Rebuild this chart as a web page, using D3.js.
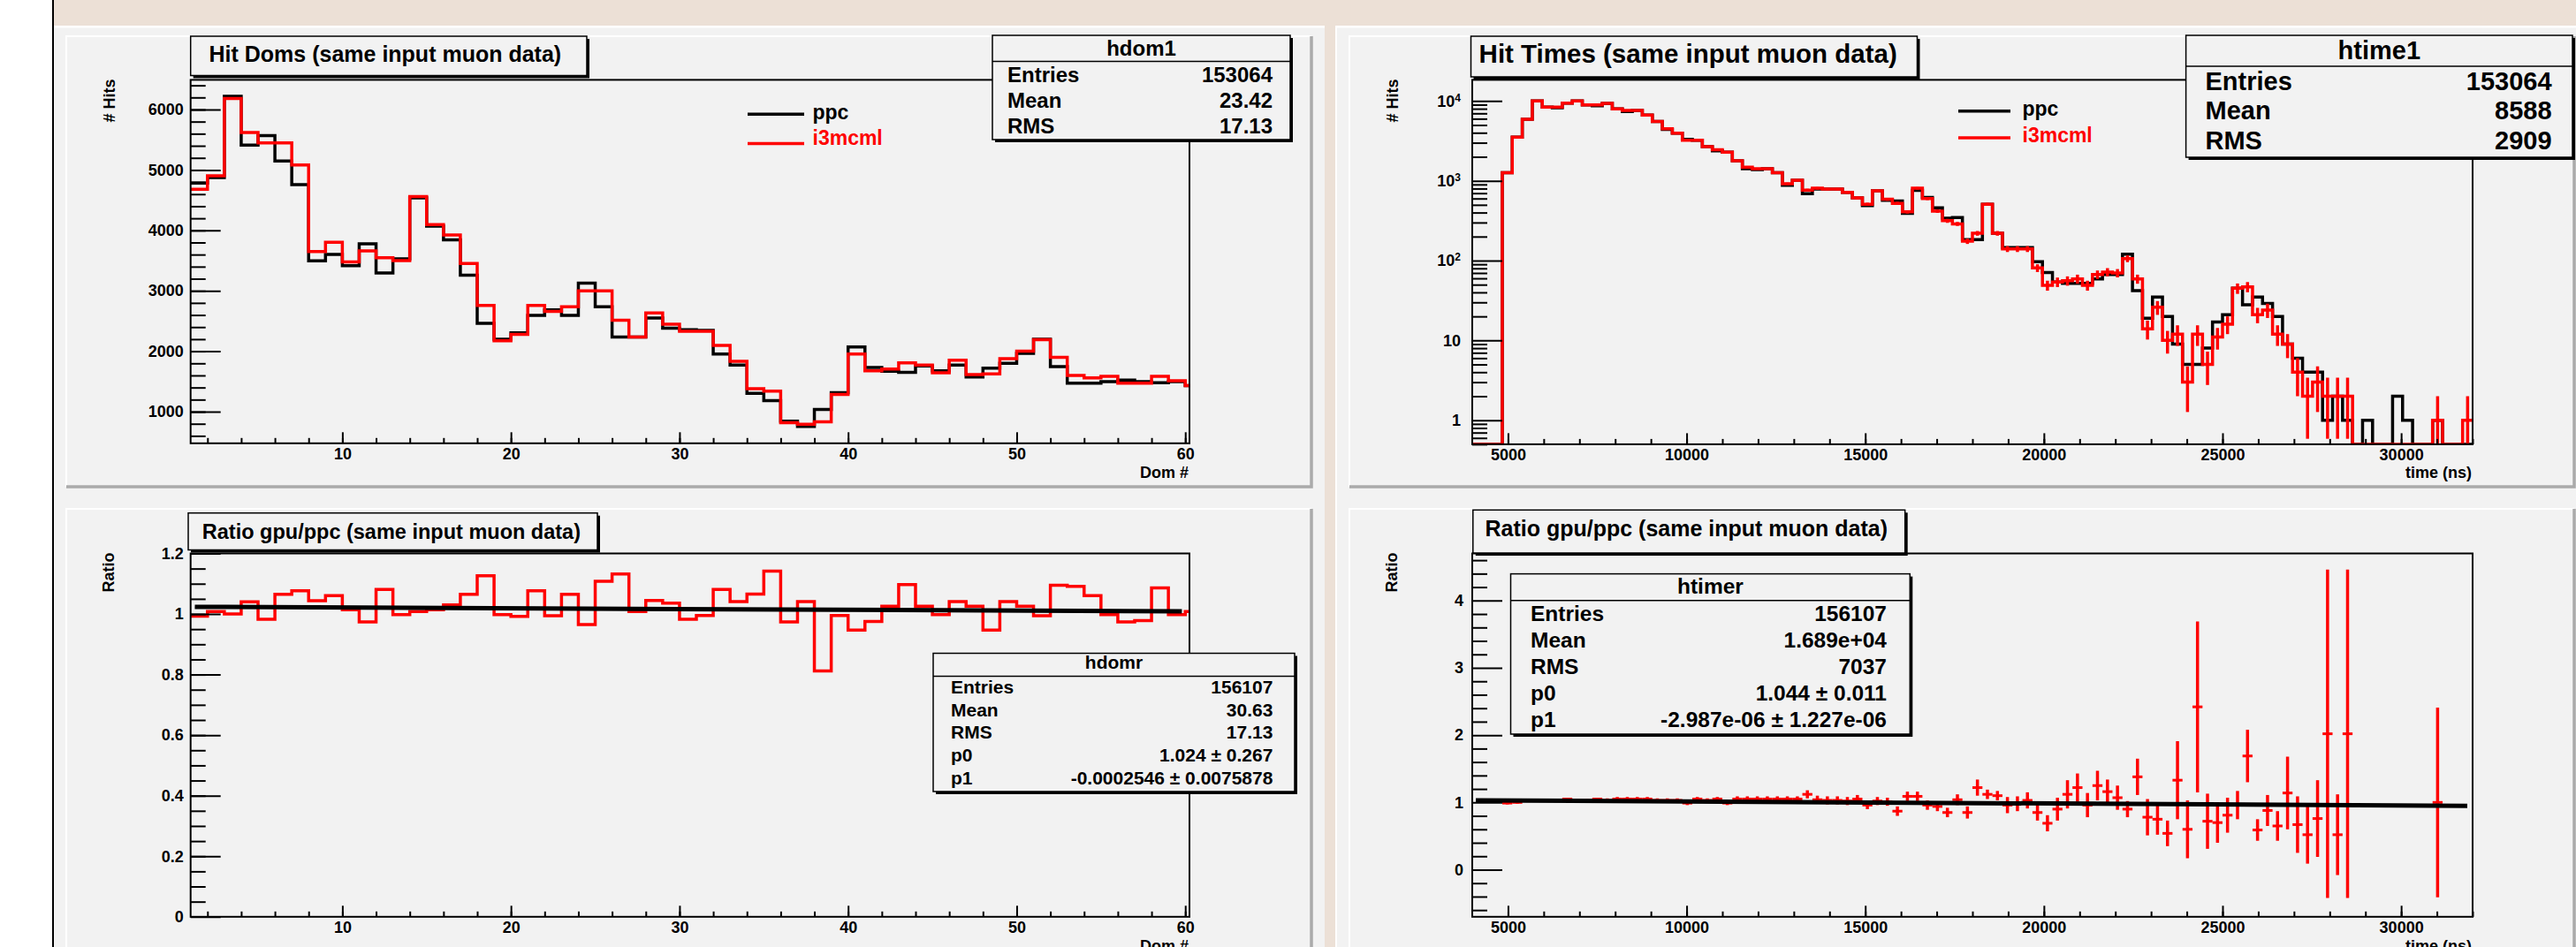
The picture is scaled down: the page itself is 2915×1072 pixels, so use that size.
<!DOCTYPE html>
<html lang="en">
<head>
<meta charset="UTF-8">
<title>ppc vs i3mcml</title>
<script src="https://d3js.org/d3.v7.min.js"></script>
<style>
  body { margin: 0; overflow: hidden; background: #fff; }
  svg text { font-family: 'Liberation Sans', Arial, Helvetica, sans-serif; font-weight: bold; }
</style>
</head>
<body>
<div id="chart"></div>
<script>
// ---------- data read off the canvases ----------
// hits per DOM number (bins 1..60)
const domBins = d3.range(1, 61);
const domPpc = [4784, 4873, 6219, 5410, 5567, 5149, 4758, 3495, 3604, 3416,
                3777, 3296, 3531, 4538, 4069, 3844, 3260, 2461, 2200, 2305,
                2592, 2686, 2592, 3129, 2738, 2237, 2237, 2550, 2383, 2357,
                2346, 1955, 1772, 1303, 1183, 843, 755, 1037, 1313, 2070,
                1731, 1668, 1652, 1757, 1678, 1772, 1574, 1720, 1799, 1966,
                2200, 1746, 1470, 1470, 1496, 1522, 1496, 1480, 1496, 1433];
const domI3 = [4680, 4904, 6182, 5619, 5447, 5447, 5081, 3651, 3803, 3479,
               3662, 3547, 3500, 4559, 4095, 3923, 3453, 2759, 2174, 2279,
               2759, 2660, 2738, 2999, 2999, 2514, 2237, 2634, 2446, 2331,
               2331, 2096, 1835, 1381, 1339, 817, 791, 833, 1287, 1955,
               1678, 1705, 1809, 1772, 1642, 1851, 1616, 1626, 1877, 2002,
               2190, 1898, 1600, 1558, 1585, 1470, 1470, 1585, 1511, 1433];
const domRatio = [0.993, 1.008, 1.000, 1.040, 0.983, 1.065, 1.077, 1.044, 1.061, 1.014,
                  0.974, 1.081, 0.998, 1.008, 1.014, 1.030, 1.065, 1.126, 0.998, 0.992,
                  1.077, 0.994, 1.065, 0.965, 1.108, 1.132, 1.008, 1.045, 1.036, 0.983,
                  0.995, 1.081, 1.041, 1.066, 1.142, 0.974, 1.041, 0.812, 0.995, 0.947,
                  0.975, 1.026, 1.097, 1.026, 0.998, 1.041, 1.026, 0.947, 1.041, 1.026,
                  0.994, 1.095, 1.091, 1.061, 0.998, 0.974, 0.978, 1.086, 0.998, 1.008];
const domFit = [1.024, -0.0002546];

// hit times, 100 bins from 4000 to 32000 ns
const timeRange = [4000, 32000];
const timeBinCount = 100;
const timePpc = [0, 0, 0, 1262, 3525, 5916, 10040, 8375, 8200, 9420,
                 10040, 8910, 8700, 9330, 7960, 7400, 7640, 6655, 5545, 4400,
                 3960, 3300, 3219, 2684, 2380, 2278, 1782, 1420, 1380, 1419,
                 1262, 880, 1014, 690, 790, 787, 787, 718, 610, 490,
                 751, 570, 560, 390, 760, 620, 460, 340, 347, 183,
                 183, 508, 220, 146, 146, 146, 97, 71, 54, 52,
                 52, 52, 59, 67, 67, 120, 42, 19, 35, 20,
                 9, 5, 5, 8, 17, 21, 45, 28, 35, 29,
                 20, 9, 6, 4, 4, 1, 2, 1, 0, 1,
                 0, 0, 2, 1, 0, 0, 1, 0, 0, 0];
const timeI3 = [0, 0, 0, 1262, 3525, 5916, 10040, 8375, 8375, 9420,
                10040, 8910, 8910, 9330, 7960, 7640, 7640, 6655, 5545, 4497,
                3960, 3219, 3219, 2684, 2449, 2278, 1782, 1486, 1419, 1419,
                1262, 918, 1014, 766, 808, 787, 787, 718, 610, 508,
                751, 587, 522, 408, 808, 598, 416, 316, 289, 175,
                220, 508, 220, 140, 140, 140, 81, 49, 54, 56,
                59, 49, 67, 72, 70, 106, 59, 14, 26, 10,
                12, 3, 12, 5, 11, 16, 45, 47, 21, 24,
                12, 9, 4, 2, 3, 2, 2, 2, 0, 0,
                0, 0, 0, 0, 0, 0, 1, 0, 0, 1];
const timeRatio = [null, null, null, 0.99, 1.00, 1.03, 1.03, 1.03, 1.03, 1.05,
                   1.03, 1.03, 1.05, 1.03, 1.05, 1.05, 1.05, 1.05, 1.03, 1.03,
                   1.03, 0.99, 1.05, 1.03, 1.05, 0.99, 1.05, 1.05, 1.05, 1.05,
                   1.05, 1.05, 1.05, 1.12, 1.04, 1.03, 1.03, 1.02, 1.05, 0.96,
                   1.02, 1.01, 0.87, 1.09, 1.09, 0.96, 0.94, 0.85, 1.04, 0.85,
                   1.22, 1.12, 1.10, 0.96, 0.98, 1.03, 0.85, 0.69, 0.90, 1.12,
                   1.22, 0.96, 1.25, 1.16, 1.07, 0.90, 1.38, 0.78, 0.75, 0.54,
                   1.33, 0.60, 2.42, 0.72, 0.70, 0.81, 0.96, 1.69, 0.59, 0.88,
                   0.65, 1.14, 0.67, 0.52, 0.76, 2.02, 0.52, 2.02, null, null,
                   null, null, null, null, null, null, 1.00, null, null, null];
const timeRatioErr = [null, null, null, 0.02, 0.02, 0.02, 0.02, 0.02, 0.02, 0.02,
                      0.02, 0.02, 0.02, 0.03, 0.03, 0.03, 0.03, 0.03, 0.03, 0.03,
                      0.03, 0.03, 0.03, 0.03, 0.03, 0.03, 0.04, 0.04, 0.04, 0.04,
                      0.04, 0.04, 0.04, 0.06, 0.06, 0.06, 0.06, 0.06, 0.06, 0.06,
                      0.06, 0.06, 0.07, 0.07, 0.07, 0.07, 0.07, 0.07, 0.08, 0.09,
                      0.12, 0.07, 0.07, 0.12, 0.11, 0.12, 0.12, 0.12, 0.17, 0.21,
                      0.21, 0.18, 0.22, 0.18, 0.18, 0.12, 0.27, 0.27, 0.23, 0.19,
                      0.58, 0.43, 1.27, 0.41, 0.30, 0.26, 0.21, 0.39, 0.16, 0.23,
                      0.22, 0.54, 0.42, 0.43, 0.57, 2.44, 0.60, 2.44, null, null,
                      null, null, null, null, null, null, 1.41, null, null, null];
const timeFit = [1.044, -2.987e-06];

// tick labels
const domTicks = [10, 20, 30, 40, 50, 60];
const hitTicks = [1000, 2000, 3000, 4000, 5000, 6000];
const domRatioTicks = [0, 0.2, 0.4, 0.6, 0.8, 1, 1.2];
const timeTicks = [5000, 10000, 15000, 20000, 25000, 30000];
const logTicks = [1, 10, 100, 1000, 10000];
const timeRatioTicks = [0, 1, 2, 3, 4];

// legend + stats boxes
const legendNames = ["ppc", "i3mcml"];
const legendColors = ["#000000", "#ff0000"];
const statsHdom1 = [["Entries", "153064"], ["Mean", "23.42"], ["RMS", "17.13"]];
const statsHtime1 = [["Entries", "153064"], ["Mean", "8588"], ["RMS", "2909"]];
const statsHdomr = [["Entries", "156107"], ["Mean", "30.63"], ["RMS", "17.13"],
                    ["p0", "1.024 \u00b1 0.267"], ["p1", "-0.0002546 \u00b1 0.0075878"]];
const statsHtimer = [["Entries", "156107"], ["Mean", "1.689e+04"], ["RMS", "7037"],
                     ["p0", "1.044 \u00b1 0.011"], ["p1", "-2.987e-06 \u00b1 1.227e-06"]];

// ---------- page ----------
const W = 2915, H = 1072;
const BG = "#f2f2f2";
const svg = d3.select("#chart").append("svg").attr("width", W).attr("height", H);

svg.append("rect").attr("width", W).attr("height", H).attr("fill", "#ffffff");
svg.append("rect").attr("x", 61).attr("y", 0).attr("width", W - 61).attr("height", H).attr("fill", BG);
svg.append("rect").attr("x", 61).attr("y", 0).attr("width", W - 61).attr("height", 29).attr("fill", "#ece0d6");
svg.append("rect").attr("x", 61).attr("y", 29).attr("width", W - 61).attr("height", 2.5).attr("fill", "#ffffff");
svg.append("rect").attr("x", 1499).attr("y", 0).attr("width", 12).attr("height", H).attr("fill", "#ece0d6");
svg.append("rect").attr("x", 1511).attr("y", 29).attr("width", 2).attr("height", H).attr("fill", "#ffffff");
svg.append("line").attr("x1", 60).attr("x2", 60).attr("y1", 0).attr("y2", H)
  .attr("stroke", "#000").attr("stroke-width", 2);

function drawPad(x0, y0, x1, y1) {
  svg.append("path").attr("d", `M${x0},${y1}V${y0}H${x1}`)
    .attr("fill", "none").attr("stroke", "#ffffff").attr("stroke-width", 2);
  svg.append("path").attr("d", `M${x0},${y1}H${x1}V${y0}`)
    .attr("fill", "none").attr("stroke", "#aaaaaa").attr("stroke-width", 3.5);
}
drawPad(75, 41, 1484, 551);
drawPad(75, 576, 1484, 1100);
drawPad(1527, 41, 2913, 551);
drawPad(1527, 576, 2913, 1100);

// ---------- helpers ----------
function addClip(id, f) {
  svg.append("clipPath").attr("id", id).append("rect")
    .attr("x", f.x0).attr("y", f.y0).attr("width", f.x1 - f.x0).attr("height", f.y1 - f.y0);
  return `url(#${id})`;
}

function stepPath(edges, values, x, y) {
  const pts = values.map((v, i) => [edges[i], v]);
  pts.push([edges[values.length], values[values.length - 1]]);
  return d3.line().x(d => x(d[0])).y(d => y(d[1])).curve(d3.curveStepAfter)(pts);
}

function xAxis(f, scale, majors, minors, fmt) {
  const g = svg.append("g").attr("transform", `translate(0,${f.y1})`);
  g.append("g").call(d3.axisBottom(scale).tickValues(minors).tickSize(-6).tickFormat(""));
  g.append("g").call(d3.axisBottom(scale).tickValues(majors).tickSize(-12.5).tickPadding(5).tickFormat(fmt));
  g.selectAll(".domain").remove();
  g.selectAll("line").attr("stroke-width", 2);
  g.selectAll("text").attr("font-size", 18).attr("fill", "#000");
  return g;
}

function yAxis(f, scale, majors, minors, fmt, pad) {
  const g = svg.append("g").attr("transform", `translate(${f.x0},0)`);
  g.append("g").call(d3.axisLeft(scale).tickValues(minors).tickSize(-17).tickFormat(""));
  const gMajor = g.append("g")
    .call(d3.axisLeft(scale).tickValues(majors).tickSize(-34).tickPadding(pad).tickFormat(fmt));
  g.selectAll(".domain").remove();
  g.selectAll("line").attr("stroke-width", 2);
  g.selectAll("text").attr("font-size", 18).attr("fill", "#000");
  return gMajor;
}

function frameRect(f) {
  svg.append("rect").attr("x", f.x0).attr("y", f.y0)
    .attr("width", f.x1 - f.x0).attr("height", f.y1 - f.y0)
    .attr("fill", "none").attr("stroke", "#000").attr("stroke-width", 2);
}

function titleBox(b, text, fs) {
  svg.append("rect").attr("x", b.x0 + 3).attr("y", b.y0 + 3)
    .attr("width", b.x1 - b.x0).attr("height", b.y1 - b.y0).attr("fill", "#000");
  svg.append("rect").attr("x", b.x0).attr("y", b.y0)
    .attr("width", b.x1 - b.x0).attr("height", b.y1 - b.y0)
    .attr("fill", BG).attr("stroke", "#000").attr("stroke-width", 1.5);
  svg.append("text").attr("x", b.tx).attr("y", b.ty).attr("font-size", fs).text(text);
}

function statsBox(b, name, rows) {
  svg.append("rect").attr("x", b.x0 + 3).attr("y", b.y0 + 3)
    .attr("width", b.x1 - b.x0).attr("height", b.y1 - b.y0).attr("fill", "#000");
  svg.append("rect").attr("x", b.x0).attr("y", b.y0)
    .attr("width", b.x1 - b.x0).attr("height", b.y1 - b.y0)
    .attr("fill", BG).attr("stroke", "#000").attr("stroke-width", 1.5);
  svg.append("line").attr("x1", b.x0).attr("x2", b.x1).attr("y1", b.line).attr("y2", b.line)
    .attr("stroke", "#000").attr("stroke-width", 1.5);
  svg.append("text").attr("x", (b.x0 + b.x1) / 2).attr("y", b.head)
    .attr("text-anchor", "middle").attr("font-size", b.fs).text(name);
  rows.forEach((r, i) => {
    const y = b.row0 + i * b.step;
    svg.append("text").attr("x", b.lx).attr("y", y).attr("font-size", b.fs).text(r[0]);
    svg.append("text").attr("x", b.rx).attr("y", y).attr("text-anchor", "end")
      .attr("font-size", b.fs).text(r[1]);
  });
}

function legend(l) {
  legendNames.forEach((n, i) => {
    svg.append("line").attr("x1", l.x0).attr("x2", l.x1).attr("y1", l.ly[i]).attr("y2", l.ly[i])
      .attr("stroke", legendColors[i]).attr("stroke-width", 3.5);
    svg.append("text").attr("x", l.tx).attr("y", l.ty[i]).attr("font-size", 23)
      .attr("fill", legendColors[i]).text(n);
  });
}

function axisTitles(f, ytitle, yx, xtitle, xy) {
  svg.append("text").attr("transform", `translate(${yx},${f.y0 - 1}) rotate(-90)`)
    .attr("text-anchor", "end").attr("font-size", 18).text(ytitle);
  svg.append("text").attr("x", f.x1 - 1).attr("y", xy)
    .attr("text-anchor", "end").attr("font-size", 18).text(xtitle);
}

const fmtNum = d => String(+d.toFixed(1));

// ---------- top left: hit doms ----------
const fTL = { x0: 215.7, x1: 1346, y0: 90.4, y1: 501.8 };
const xDom = d3.scaleLinear().domain([1, 60.25]).range([fTL.x0, fTL.x1]);
const yHits = d3.scaleLinear().domain([477, 6491]).range([fTL.y1, fTL.y0]);
const domEdges = domBins.concat([61]);
const clipTL = addClip("clipTL", fTL);

svg.append("path").attr("d", stepPath(domEdges, domPpc, xDom, yHits)).attr("clip-path", clipTL)
  .attr("fill", "none").attr("stroke", "#000").attr("stroke-width", 3.5);
svg.append("path").attr("d", stepPath(domEdges, domI3, xDom, yHits)).attr("clip-path", clipTL)
  .attr("fill", "none").attr("stroke", "#ff0000").attr("stroke-width", 3.5);
frameRect(fTL);
xAxis(fTL, xDom, domTicks, d3.range(2, 61, 2), d3.format("d"));
yAxis(fTL, yHits, hitTicks, d3.range(600, 6500, 200), d3.format("d"), 8);
axisTitles(fTL, "# Hits", 130, "Dom #", 541);
titleBox({ x0: 215.7, x1: 664, y0: 41, y1: 85.5, tx: 236.5, ty: 69.6 }, "Hit Doms (same input muon data)", 25);
legend({ x0: 846, x1: 910, ly: [129.3, 162.5], tx: 919.5, ty: [134.5, 164.3] });
statsBox({ x0: 1123, x1: 1460, y0: 40, y1: 158, line: 69.6, head: 62.5,
           row0: 93, step: 28.8, lx: 1140, rx: 1440, fs: 24 }, "hdom1", statsHdom1);

// ---------- bottom left: dom ratio ----------
const fBL = { x0: 215.7, x1: 1346, y0: 626.5, y1: 1037.8 };
const yDomR = d3.scaleLinear().domain([0, 1.2]).range([fBL.y1, fBL.y0]);
const clipBL = addClip("clipBL", fBL);
svg.append("path").attr("d", stepPath(domEdges, domRatio, xDom, yDomR)).attr("clip-path", clipBL)
  .attr("fill", "none").attr("stroke", "#ff0000").attr("stroke-width", 3.5);
const domFitX = [1.25, 59.8];
svg.append("line")
  .attr("x1", xDom(domFitX[0])).attr("y1", yDomR(domFit[0] + domFit[1] * domFitX[0]))
  .attr("x2", xDom(domFitX[1])).attr("y2", yDomR(domFit[0] + domFit[1] * domFitX[1]))
  .attr("stroke", "#000").attr("stroke-width", 5);
frameRect(fBL);
xAxis(fBL, xDom, domTicks, d3.range(2, 61, 2), d3.format("d"));
yAxis(fBL, yDomR, domRatioTicks, d3.range(0.05, 1.2, 0.05), fmtNum, 8);
axisTitles(fBL, "Ratio", 129, "Dom #", 1077);
titleBox({ x0: 213, x1: 676, y0: 580.7, y1: 622.5, tx: 228.8, ty: 609.6 }, "Ratio gpu/ppc (same input muon data)", 23.5);
statsBox({ x0: 1056, x1: 1465, y0: 739.5, y1: 896, line: 765.6, head: 757.2,
           row0: 785, step: 25.7, lx: 1076, rx: 1440.4, fs: 21 }, "hdomr", statsHdomr);

// ---------- top right: hit times (log) ----------
const fTR = { x0: 1666, x1: 2798, y0: 90.4, y1: 502.9 };
const xTime = d3.scaleLinear().domain(timeRange).range([fTR.x0, fTR.x1]);
const binW = (timeRange[1] - timeRange[0]) / timeBinCount;
const timeEdges = d3.range(timeBinCount + 1).map(i => timeRange[0] + i * binW);
const yLog = d3.scaleLog().domain([0.5, 18400]).range([fTR.y1, fTR.y0]);
const yLogZ = v => (v > 0 ? yLog(v) : fTR.y1);
const clipTR = addClip("clipTR", fTR);

svg.append("path").attr("d", stepPath(timeEdges, timePpc, xTime, yLogZ)).attr("clip-path", clipTR)
  .attr("fill", "none").attr("stroke", "#000").attr("stroke-width", 3.5);
svg.append("path").attr("d", stepPath(timeEdges, timeI3, xTime, yLogZ)).attr("clip-path", clipTR)
  .attr("fill", "none").attr("stroke", "#ff0000").attr("stroke-width", 3.5);
// poisson error bars of the red histogram
svg.append("g").attr("clip-path", clipTR).selectAll("line")
  .data(timeI3.map((v, i) => ({ v, i })).filter(d => d.v > 0))
  .join("line")
  .attr("x1", d => xTime(timeEdges[d.i] + binW / 2)).attr("x2", d => xTime(timeEdges[d.i] + binW / 2))
  .attr("y1", d => yLogZ(d.v - Math.sqrt(d.v)))
  .attr("y2", d => yLogZ(d.v + Math.sqrt(d.v)))
  .attr("stroke", "#ff0000").attr("stroke-width", 3.5);
frameRect(fTR);
xAxis(fTR, xTime, timeTicks, d3.range(5000, 32001, 1000), d3.format("d"));
const logMinor = [];
[-1, 0, 1, 2, 3, 4].forEach(k => d3.range(2, 10).forEach(m => {
  const v = m * Math.pow(10, k);
  if (v >= 0.5 && v <= 18400) logMinor.push(v);
}));
const gLog = yAxis(fTR, yLog, logTicks, logMinor, d => String(d), 13);
gLog.selectAll("text").each(function (d) {
  if (d >= 100) {
    const t = d3.select(this).text(null);
    t.append("tspan").text("10");
    t.append("tspan").attr("dy", "-0.5em").attr("font-size", 12).text(Math.round(Math.log10(d)));
  }
});
axisTitles(fTR, "# Hits", 1582, "time (ns)", 541);
titleBox({ x0: 1664.5, x1: 2169.5, y0: 41, y1: 87, tx: 1673.6, ty: 71.4 }, "Hit Times (same input muon data)", 29.5);
legend({ x0: 2216, x1: 2275, ly: [125.7, 156], tx: 2288.5, ty: [131.4, 160.7] });
statsBox({ x0: 2473.6, x1: 2911, y0: 40, y1: 178, line: 75, head: 67,
           row0: 101.5, step: 33.5, lx: 2495.5, rx: 2887.6, fs: 29 }, "htime1", statsHtime1);

// ---------- bottom right: time ratio with fit ----------
const fBR = { x0: 1666, x1: 2798, y0: 626.5, y1: 1037.8 };
const yTR = d3.scaleLinear().domain([-0.7, 4.7]).range([fBR.y1, fBR.y0]);
const clipBR = addClip("clipBR", fBR);
const ratioPts = timeRatio.map((v, i) => ({ v, e: timeRatioErr[i], i })).filter(d => d.v !== null);
const gPts = svg.append("g").attr("clip-path", clipBR);
gPts.selectAll("line.h").data(ratioPts).join("line").attr("class", "h")
  .attr("x1", d => xTime(timeEdges[d.i])).attr("x2", d => xTime(timeEdges[d.i + 1]))
  .attr("y1", d => yTR(d.v)).attr("y2", d => yTR(d.v))
  .attr("stroke", "#ff0000").attr("stroke-width", 3);
gPts.selectAll("line.v").data(ratioPts).join("line").attr("class", "v")
  .attr("x1", d => xTime(timeEdges[d.i] + binW / 2)).attr("x2", d => xTime(timeEdges[d.i] + binW / 2))
  .attr("y1", d => yTR(d.v - d.e)).attr("y2", d => yTR(d.v + d.e))
  .attr("stroke", "#ff0000").attr("stroke-width", 3.5);
const timeFitX = [4100, 31850];
svg.append("line")
  .attr("x1", xTime(timeFitX[0])).attr("y1", yTR(timeFit[0] + timeFit[1] * timeFitX[0]))
  .attr("x2", xTime(timeFitX[1])).attr("y2", yTR(timeFit[0] + timeFit[1] * timeFitX[1]))
  .attr("stroke", "#000").attr("stroke-width", 5);
frameRect(fBR);
xAxis(fBR, xTime, timeTicks, d3.range(5000, 32001, 1000), d3.format("d"));
yAxis(fBR, yTR, timeRatioTicks, d3.range(-0.6, 4.7, 0.2).filter(v => Math.abs(v - Math.round(v)) > 0.01), d => String(d), 10);
axisTitles(fBR, "Ratio", 1581, "time (ns)", 1077);
titleBox({ x0: 1666.8, x1: 2155.7, y0: 577.3, y1: 626, tx: 1680.5, ty: 607.2 }, "Ratio gpu/ppc (same input muon data)", 25);
statsBox({ x0: 1709.5, x1: 2161.3, y0: 649.6, y1: 831, line: 679.8, head: 672.3,
           row0: 702.9, step: 30.1, lx: 1732, rx: 2135, fs: 24.5 }, "htimer", statsHtimer);
</script>
</body>
</html>
